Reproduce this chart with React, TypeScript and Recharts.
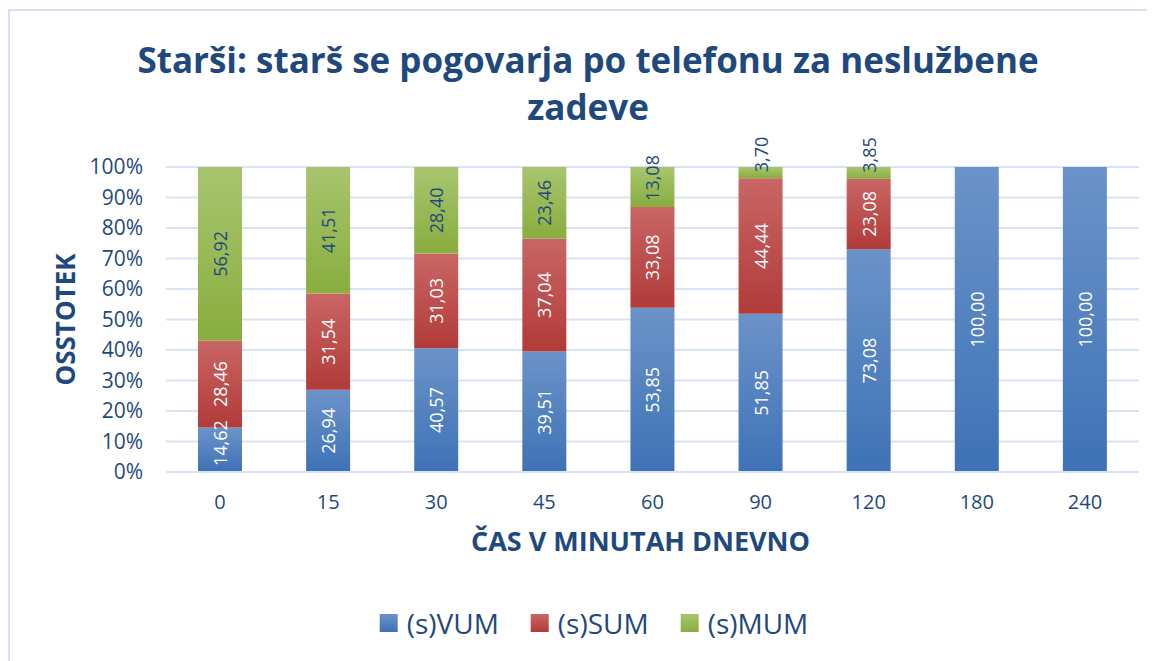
import React from 'react';
import { BarChart, Bar, XAxis, YAxis, CartesianGrid, LabelList } from 'recharts';

// Starši – telefonski pogovori (100% stacked)
const categories = ['0', '15', '30', '45', '60', '90', '120', '180', '240'];
const vum = [14.62, 26.94, 40.57, 39.51, 53.85, 51.85, 73.08, 100.0, 100.0];
const sum = [28.46, 31.54, 31.03, 37.04, 33.08, 44.44, 23.08, null, null];
const mum = [56.92, 41.51, 28.4, 23.46, 13.08, 3.7, 3.85, null, null];
const yTicks = [0, 0.1, 0.2, 0.3, 0.4, 0.5, 0.6, 0.7, 0.8, 0.9, 1];

const seriesNames = ['(s)VUM', '(s)SUM', '(s)MUM'];

const FONT = '"Open Sans", "Noto Sans", sans-serif';
const DARK = '#1f497d';
const GRID = '#d9e4f3';

const data = categories.map((c, i) => ({
  cat: c,
  vum: vum[i],
  sum: sum[i],
  mum: mum[i],
}));

const fmt = (v: number) => v.toFixed(2).replace('.', ',');

// rotated label, centered in the segment, or pushed up when it does not fit
function makeLabel(color: string) {
  return function SegmentLabel(props: any) {
    const { x, y, width, height, value } = props;
    if (value == null || value === 0) return null;
    const txt = fmt(Number(value));
    const cx = x + width / 2;
    const estLen = txt.length * 9.6;
    const fits = estLen < height - 2;
    const cy = fits ? y + height / 2 : y + height - 6;
    return (
      <text
        x={cx}
        y={cy}
        transform={`rotate(-90 ${cx} ${cy})`}
        textAnchor={fits ? 'middle' : 'start'}
        dominantBaseline="central"
        fill={color}
        fontSize={18}
        fontFamily={FONT}
      >
        {txt}
      </text>
    );
  };
}

const legendItems = [
  { name: seriesNames[0], from: '#6b93c9', to: '#3e72b6' },
  { name: seriesNames[1], from: '#c96664', to: '#b13b39' },
  { name: seriesNames[2], from: '#a8c56e', to: '#89ad3f' },
];

export default function App() {
  return (
    <div style={{ position: 'relative', width: 1147, height: 653, fontFamily: FONT }}>
      <div
        style={{
          position: 'absolute',
          left: 0,
          top: 1,
          right: 0,
          bottom: 0,
          borderTop: '2px solid #d6e2f3',
          borderLeft: '2px solid #d6e2f3',
        }}
      />
      <div
        style={{
          position: 'absolute',
          left: 580,
          top: 28,
          transform: 'translateX(-50%)',
          whiteSpace: 'nowrap',
          textAlign: 'center',
          fontSize: 35,
          lineHeight: '47px',
          fontWeight: 700,
          color: DARK,
        }}
      >
        Starši: starš se pogovarja po telefonu za neslužbene
        <br />
        zadeve
      </div>
      <BarChart
        width={1147}
        height={653}
        data={data}
        stackOffset="expand"
        margin={{ top: 159, right: 16, left: 0, bottom: 149 }}
      >
        <defs>
          {legendItems.map((it, i) => (
            <linearGradient key={i} id={`g${i}`} x1="0" y1="0" x2="0" y2="1">
              <stop offset="0%" stopColor={it.from} />
              <stop offset="100%" stopColor={it.to} />
            </linearGradient>
          ))}
        </defs>
        <CartesianGrid vertical={false} stroke={GRID} strokeWidth={2} />
        <XAxis
          dataKey="cat"
          height={40}
          axisLine={{ stroke: GRID, strokeWidth: 2 }}
          tickLine={false}
          tickMargin={17}
          tick={{ fontSize: 20, fill: DARK, fontFamily: FONT }}
          label={{
            value: 'ČAS V MINUTAH DNEVNO',
            position: 'bottom',
            offset: 20,
            dx: -12,
            style: { fontSize: 27, fontWeight: 700, fill: DARK, fontFamily: FONT },
          }}
        />
        <YAxis
          width={158}
          domain={[0, 1]}
          ticks={yTicks}
          axisLine={false}
          tickLine={false}
          tickMargin={17}
          tickFormatter={(v: number) => `${Math.round(v * 100)}%`}
          tick={{ fontSize: 21, fill: DARK, fontFamily: FONT }}
          label={{
            value: 'OSSTOTEK',
            angle: -90,
            position: 'center',
            dx: -21,
            style: { fontSize: 26, fontWeight: 700, fill: DARK, fontFamily: FONT },
          }}
        />
        <Bar dataKey="vum" name={seriesNames[0]} stackId="a" barSize={44} fill="url(#g0)" isAnimationActive={false}>
          <LabelList dataKey="vum" content={makeLabel('#ffffff')} />
        </Bar>
        <Bar dataKey="sum" name={seriesNames[1]} stackId="a" barSize={44} fill="url(#g1)" isAnimationActive={false}>
          <LabelList dataKey="sum" content={makeLabel('#ffffff')} />
        </Bar>
        <Bar dataKey="mum" name={seriesNames[2]} stackId="a" barSize={44} fill="url(#g2)" isAnimationActive={false}>
          <LabelList dataKey="mum" content={makeLabel(DARK)} />
        </Bar>
      </BarChart>
      <div
        style={{
          position: 'absolute',
          left: 586,
          top: 596,
          transform: 'translateX(-50%)',
          display: 'flex',
          alignItems: 'center',
          whiteSpace: 'nowrap',
          color: DARK,
          fontSize: 28,
        }}
      >
        {legendItems.map((it, i) => (
          <div key={i} style={{ display: 'flex', alignItems: 'center', marginLeft: i ? 32 : 0 }}>
            <span
              style={{
                display: 'inline-block',
                width: 18,
                height: 18,
                marginRight: 9,
                background: `linear-gradient(${it.from}, ${it.to})`,
              }}
            />
            <span>{it.name}</span>
          </div>
        ))}
      </div>
    </div>
  );
}
